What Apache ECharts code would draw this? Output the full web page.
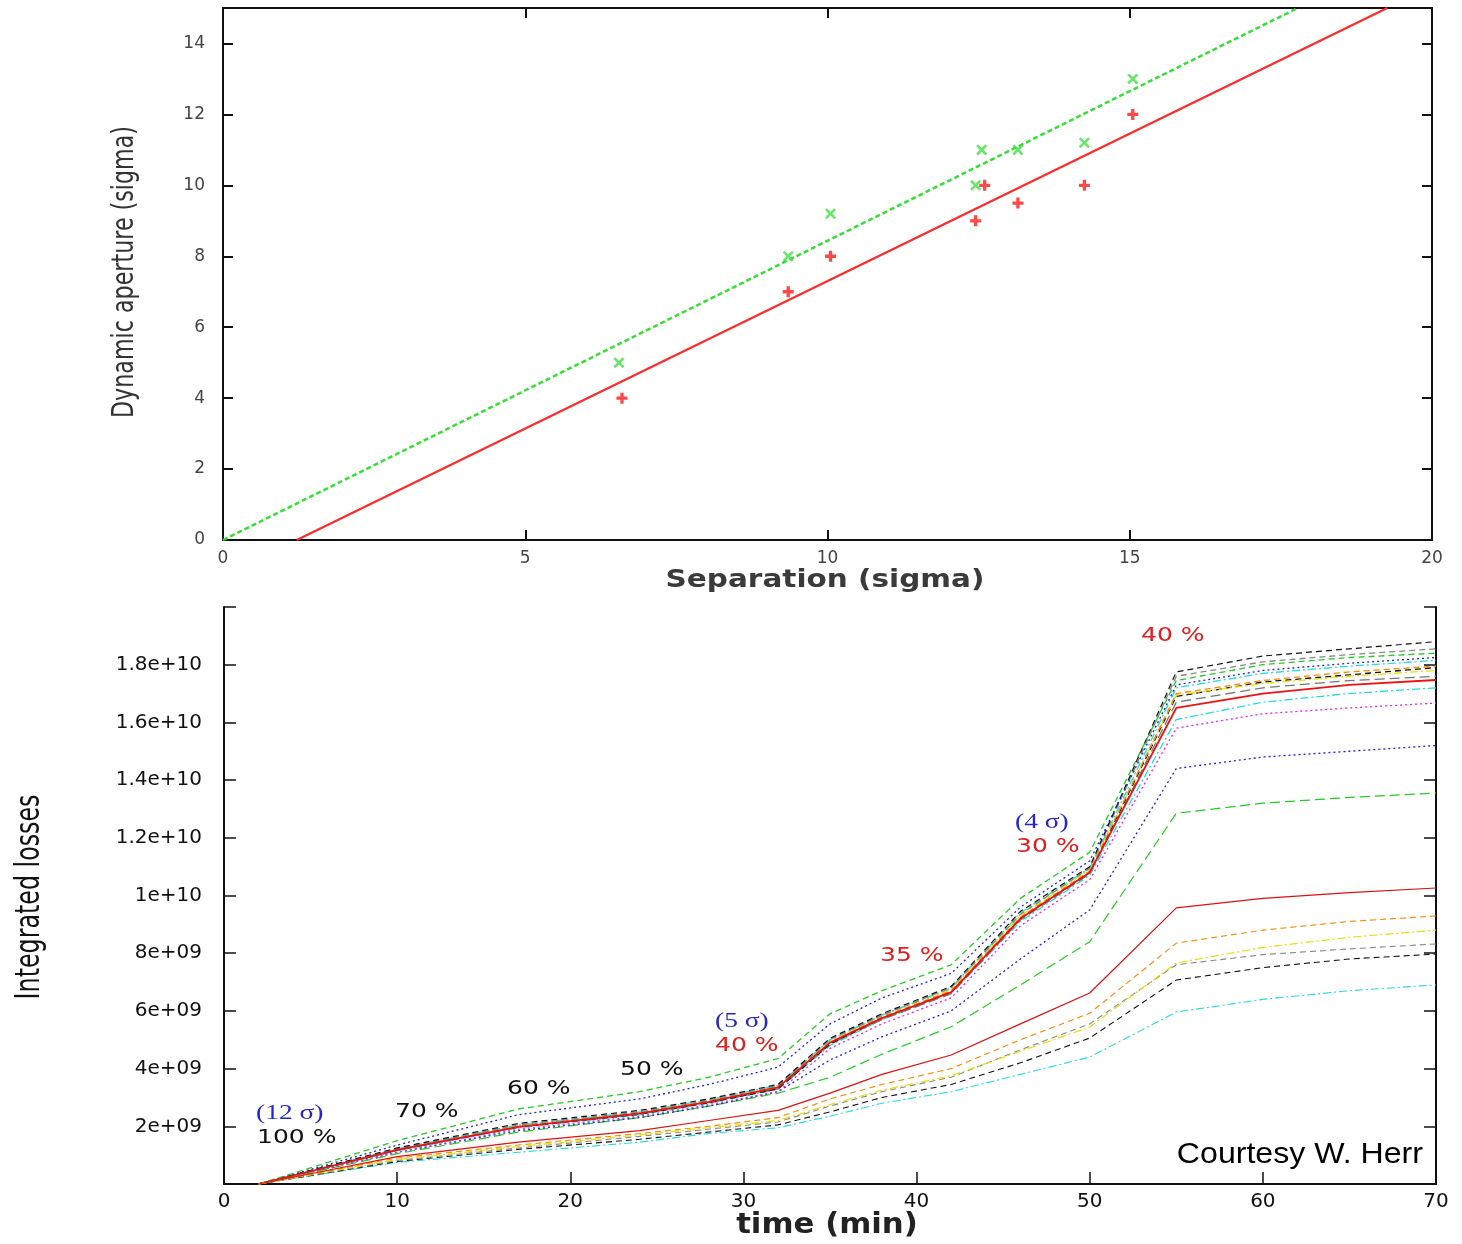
<!DOCTYPE html>
<html>
<head>
<meta charset="utf-8">
<script src="https://cdn.jsdelivr.net/npm/echarts@6/dist/echarts.min.js"></script>
<style>
  html, body { margin: 0; padding: 0; background: #fff; }
  #chart { width: 1462px; height: 1244px; }
</style>
</head>
<body>
<div id="chart"></div>
<script>
// Top panel: dynamic aperture vs separation
const sepGreen = [6.55, 9.35, 10.05, 12.45, 12.55, 13.15, 14.25, 15.05];
const daGreen = [5.0, 8.0, 9.2, 10.0, 11.0, 11.0, 11.2, 13.0];
const sepRed = [6.6, 9.35, 10.05, 12.45, 12.6, 13.15, 14.25, 15.05];
const daRed = [4.0, 7.0, 8.0, 9.0, 10.0, 9.5, 10.0, 12.0];
const fitGreenX = [0, 17.78];
const fitGreenY = [0, 15];
const fitRedX = [1.22, 19.26];
const fitRedY = [0, 15];

// Bottom panel: integrated losses (units of 1e9) vs time (min)
const lossTimes = [2, 10, 17, 24, 28, 32, 35, 38, 42, 46, 50, 55, 60, 65, 70];
const greenTop = [0, 1.5, 2.6, 3.2, 3.7, 4.35, 5.9, 6.7, 7.6, 9.9, 11.5, 17.45, 18.0, 18.25, 18.4];
const blueUpper = [0, 1.35, 2.4, 2.95, 3.45, 4.05, 5.55, 6.45, 7.3, 9.6, 11.2, 17.3, 17.8, 18.05, 18.25];
const blackTop = [0, 1.25, 2.1, 2.55, 2.95, 3.45, 5.05, 5.9, 6.85, 9.45, 11.0, 17.75, 18.3, 18.55, 18.8];
const grayTop = [0, 1.22, 2.05, 2.5, 2.9, 3.4, 5.0, 5.85, 6.8, 9.35, 10.95, 17.6, 18.1, 18.35, 18.55];
const cyanTop = [0, 1.22, 2.05, 2.5, 2.92, 3.42, 5.0, 5.85, 6.8, 9.4, 10.95, 17.2, 17.7, 17.95, 18.15];
const orangeMain = [0, 1.2, 2.0, 2.45, 2.85, 3.35, 4.9, 5.8, 6.7, 9.25, 10.85, 17.0, 17.45, 17.75, 17.95];
const blackMain = [0, 1.18, 1.98, 2.42, 2.82, 3.3, 4.85, 5.75, 6.65, 9.2, 10.8, 16.9, 17.4, 17.65, 17.9];
const yellowMain = [0, 1.2, 2.02, 2.48, 2.88, 3.38, 4.95, 5.85, 6.75, 9.3, 10.9, 16.95, 17.35, 17.6, 17.8];
const grayMain = [0, 1.17, 1.97, 2.42, 2.82, 3.3, 4.85, 5.7, 6.6, 9.15, 10.75, 16.7, 17.2, 17.45, 17.6];
const redMain = [0, 1.18, 1.98, 2.45, 2.85, 3.35, 4.9, 5.75, 6.65, 9.2, 10.8, 16.5, 17.0, 17.3, 17.47];
const cyanMain = [0, 1.15, 1.95, 2.4, 2.8, 3.28, 4.8, 5.7, 6.6, 9.1, 10.7, 16.1, 16.7, 17.0, 17.2];
const magentaMain = [0, 1.1, 1.9, 2.35, 2.75, 3.2, 4.7, 5.55, 6.45, 8.95, 10.55, 15.8, 16.3, 16.5, 16.67];
const blueLower = [0, 1.1, 1.85, 2.3, 2.7, 3.2, 4.3, 5.1, 6.0, 7.8, 9.5, 14.4, 14.8, 15.0, 15.2];
const greenLower = [0, 1.05, 1.8, 2.3, 2.7, 3.15, 3.7, 4.5, 5.45, 6.9, 8.4, 12.85, 13.2, 13.4, 13.55];
const redLow = [0, 0.95, 1.45, 1.85, 2.2, 2.55, 3.15, 3.8, 4.47, 5.55, 6.62, 9.57, 9.9, 10.1, 10.26];
const orangeLow = [0, 0.9, 1.35, 1.75, 2.0, 2.3, 2.95, 3.45, 4.0, 5.0, 5.92, 8.35, 8.8, 9.1, 9.29];
const yellowLow = [0, 0.85, 1.3, 1.7, 1.95, 2.2, 2.75, 3.25, 3.75, 4.6, 5.44, 7.66, 8.2, 8.55, 8.8];
const grayLow = [0, 0.82, 1.25, 1.65, 1.9, 2.15, 2.7, 3.2, 3.7, 4.65, 5.55, 7.6, 7.95, 8.15, 8.32];
const blackLow = [0, 0.78, 1.2, 1.55, 1.8, 2.05, 2.5, 3.0, 3.45, 4.2, 5.06, 7.07, 7.5, 7.8, 7.97];
const cyanLow = [0, 0.75, 1.1, 1.45, 1.75, 1.95, 2.35, 2.8, 3.2, 3.8, 4.4, 5.96, 6.4, 6.7, 6.9];

const chart = echarts.init(document.getElementById('chart'));

const DASH = [6, 4];
const DOT = [2, 3];
const DASHDOT = [8, 3, 2, 3];
const LONGDASH = [10, 5];

// colour, dash, width for each loss curve
const lossLines = [
    [greenLower, '#22cc22', LONGDASH, 1.2],
    [blueLower, '#2222dd', DOT, 1.3],
    [magentaMain, '#ee22ee', DOT, 1.3],
    [cyanMain, '#22dddd', DASHDOT, 1.3],
    [grayMain, '#777777', LONGDASH, 1.3],
    [blackMain, '#111111', DASH, 1.3],
    [yellowMain, '#e8e000', DASHDOT, 1.3],
    [orangeMain, '#ff8800', DASH, 1.3],
    [cyanTop, '#22dddd', DASHDOT, 1.3],
    [grayTop, '#888888', DASH, 1.3],
    [blackTop, '#111111', DASH, 1.2],
    [blueUpper, '#2222dd', DOT, 1.3],
    [greenTop, '#22cc22', DASH, 1.3],
    [redMain, '#ee1111', 'solid', 1.8],
    [cyanLow, '#22dddd', DASHDOT, 1.1],
    [blackLow, '#111111', DASH, 1.1],
    [grayLow, '#888888', DASH, 1.1],
    [yellowLow, '#e8e000', DASHDOT, 1.2],
    [orangeLow, '#ff8800', DASH, 1.1],
    [redLow, '#dd1111', 'solid', 1.2]
];

const plusPath = 'path://M3.5,0H6.5V3.5H10V6.5H6.5V10H3.5V6.5H0V3.5H3.5Z';
const crossPath = 'path://M4,0H6V4H10V6H6V10H4V6H0V4H4Z';

function fmtLoss(v) {
    if (v === 0 || v >= 2e10) return '';
    const e = Math.floor(Math.log10(v) + 1e-9);
    const m = parseFloat((v / Math.pow(10, e)).toFixed(2));
    return m + 'e+' + (e < 10 ? '0' + e : e);
}

const frame = { color: '#111', width: 2 };
const topLabel = { color: '#444', fontSize: 17, fontFamily: 'DejaVu Sans' };
const botLabel = { color: '#111', fontSize: 20, fontFamily: 'DejaVu Sans' };

const series = [
    {
        type: 'line', xAxisIndex: 0, yAxisIndex: 0, symbol: 'none',
        data: fitGreenX.map((x, i) => [x, fitGreenY[i]]),
        lineStyle: { color: '#33e033', width: 2.5, type: [5, 3] }, z: 3
    },
    {
        type: 'line', xAxisIndex: 0, yAxisIndex: 0, symbol: 'none',
        data: fitRedX.map((x, i) => [x, fitRedY[i]]),
        lineStyle: { color: '#ff2a2a', width: 2.2 }, z: 3
    },
    {
        type: 'scatter', xAxisIndex: 0, yAxisIndex: 0,
        data: sepGreen.map((x, i) => [x, daGreen[i]]),
        symbol: crossPath, symbolSize: 13, symbolRotate: 45,
        itemStyle: { color: '#44e044' }, z: 4
    },
    {
        type: 'scatter', xAxisIndex: 0, yAxisIndex: 0,
        data: sepRed.map((x, i) => [x, daRed[i]]),
        symbol: plusPath, symbolSize: 11,
        itemStyle: { color: '#ff1a1a' }, z: 4
    }
];

lossLines.forEach(([vals, color, dash, width]) => {
    series.push({
        type: 'line', xAxisIndex: 2, yAxisIndex: 2, symbol: 'none', silent: true,
        data: lossTimes.map((t, i) => [t, vals[i] * 1e9]),
        lineStyle: { color: color, width: width, type: dash }
    });
});

function annot(text, x, y, color, size, family, sx) {
    return {
        type: 'text', x: x, y: y, z: 10, scaleX: sx,
        style: { text: text, fill: color, fontSize: size, fontFamily: family, verticalAlign: 'middle' }
    };
}

const sans = 'DejaVu Sans';
const serif = 'Liberation Serif';
const blue = '#2525c8';
const red = '#e02020';

const option = {
    animation: false,
    backgroundColor: '#fff',
    grid: [
        { left: 223, top: 8, width: 1209, height: 532, show: true, borderColor: '#111', borderWidth: 2 },
        { left: 224, top: 607, width: 1212, height: 577, show: false }
    ],
    xAxis: [
        {
            gridIndex: 0, type: 'value', min: 0, max: 20, interval: 5,
            axisLine: { onZero: false, lineStyle: frame },
            axisTick: { inside: true, length: 10, lineStyle: frame },
            axisLabel: Object.assign({ margin: 10 }, topLabel),
            splitLine: { show: false }
        },
        {
            gridIndex: 0, type: 'value', min: 0, max: 20, interval: 5, position: 'top',
            axisLine: { onZero: false, lineStyle: frame },
            axisTick: { inside: true, length: 10, lineStyle: frame },
            axisLabel: { show: false }, splitLine: { show: false }
        },
        {
            gridIndex: 1, type: 'value', min: 0, max: 70, interval: 10,
            axisLine: { onZero: false, lineStyle: frame },
            axisTick: { inside: true, length: 12, lineStyle: { color: '#111', width: 1.5 } },
            axisLabel: Object.assign({ margin: 8 }, botLabel),
            splitLine: { show: false }
        }
    ],
    yAxis: [
        {
            gridIndex: 0, type: 'value', min: 0, max: 15, interval: 2,
            axisLine: { onZero: false, lineStyle: frame },
            axisTick: { inside: true, length: 10, lineStyle: frame },
            axisLabel: Object.assign({ margin: 18, formatter: v => (v % 2 === 0 ? v : '') }, topLabel),
            splitLine: { show: false }
        },
        {
            gridIndex: 0, type: 'value', min: 0, max: 15, interval: 2, position: 'right',
            axisLine: { onZero: false, lineStyle: frame },
            axisTick: { inside: true, length: 10, lineStyle: frame },
            axisLabel: { show: false }, splitLine: { show: false }
        },
        {
            gridIndex: 1, type: 'value', min: 0, max: 2e10, interval: 2e9,
            axisLine: { onZero: false, lineStyle: frame },
            axisTick: { inside: true, length: 12, lineStyle: { color: '#111', width: 1.5 } },
            axisLabel: Object.assign({ margin: 22, formatter: fmtLoss }, botLabel),
            splitLine: { show: false }
        },
        {
            gridIndex: 1, type: 'value', min: 0, max: 2e10, interval: 2e9, position: 'right',
            axisLine: { onZero: false, lineStyle: frame },
            axisTick: { inside: true, length: 12, lineStyle: { color: '#111', width: 1.5 } },
            axisLabel: { show: false }, splitLine: { show: false }
        }
    ],
    graphic: [
        {
            type: 'text', x: 125, y: 272, rotation: Math.PI / 2, scaleX: 0.74,
            style: {
                text: 'Dynamic aperture (sigma)', fill: '#333', fontSize: 30,
                fontFamily: sans, align: 'center', verticalAlign: 'middle'
            }
        },
        {
            type: 'text', x: 825, y: 580, scaleX: 1.18,
            style: {
                text: 'Separation (sigma)', fill: '#3a3a3a', fontSize: 25, fontWeight: 'bold',
                fontFamily: sans, align: 'center', verticalAlign: 'middle'
            }
        },
        {
            type: 'text', x: 30, y: 897, rotation: Math.PI / 2, scaleX: 0.72,
            style: {
                text: 'Integrated losses', fill: '#111', fontSize: 33,
                fontFamily: sans, align: 'center', verticalAlign: 'middle'
            }
        },
        {
            type: 'text', x: 827, y: 1226, scaleX: 1.1,
            style: {
                text: 'time (min)', fill: '#222', fontSize: 28, fontWeight: 'bold',
                fontFamily: sans, align: 'center', verticalAlign: 'middle'
            }
        },
        annot('(12 σ)', 256, 1113, blue, 22, serif, 1.25),
        annot('100 %', 257, 1138, '#111', 20, sans, 1.25),
        annot('70 %', 395, 1112, '#111', 20, sans, 1.25),
        annot('60 %', 507, 1089, '#111', 20, sans, 1.25),
        annot('50 %', 620, 1070, '#111', 20, sans, 1.25),
        annot('(5 σ)', 715, 1021, blue, 22, serif, 1.25),
        annot('40 %', 715, 1046, red, 20, sans, 1.25),
        annot('35 %', 880, 956, red, 20, sans, 1.25),
        annot('(4 σ)', 1015, 822, blue, 22, serif, 1.25),
        annot('30 %', 1016, 847, red, 20, sans, 1.25),
        annot('40 %', 1141, 636, red, 20, sans, 1.25),
        {
            type: 'text', x: 1423, y: 1155, z: 10, scaleX: 1.07,
            style: {
                text: 'Courtesy W. Herr', fill: '#000', fontSize: 30,
                fontFamily: 'Liberation Sans', align: 'right', verticalAlign: 'middle'
            }
        }
    ],
    series: series
};

chart.setOption(option);
</script>
</body>
</html>
